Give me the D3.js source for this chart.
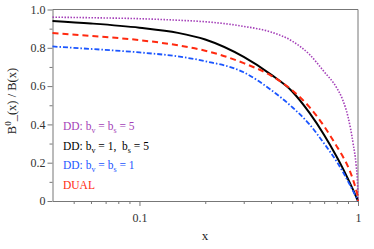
<!DOCTYPE html>
<html>
<head>
<meta charset="utf-8">
<script src="https://cdn.jsdelivr.net/npm/d3@7/dist/d3.min.js"></script>
<style>
  body { margin: 0; background: #fff; }
  svg { display: block; }
</style>
</head>
<body>
<svg id="chart" width="374" height="249"></svg>
<script>
var xs = [0.04, 0.06, 0.1, 0.15, 0.2, 0.3, 0.4, 0.5, 0.6, 0.7, 0.8, 0.85, 0.9, 0.95, 0.98, 0.995, 1.0];

// series values, B0(x)/B(x)
var ddV5S5 = [0.960, 0.957, 0.952, 0.944, 0.936, 0.912, 0.882, 0.835, 0.765, 0.675, 0.590, 0.530, 0.440, 0.300, 0.190, 0.095, 0.0];
var ddV1S5 = [0.940, 0.927, 0.905, 0.878, 0.843, 0.752, 0.660, 0.572, 0.460, 0.345, 0.230, 0.173, 0.115, 0.058, 0.023, 0.006, 0.0];
var ddV1S1 = [0.807, 0.794, 0.776, 0.755, 0.730, 0.672, 0.580, 0.490, 0.400, 0.300, 0.205, 0.155, 0.103, 0.052, 0.021, 0.005, 0.0];
var dual   = [0.877, 0.862, 0.840, 0.813, 0.785, 0.720, 0.655, 0.578, 0.490, 0.390, 0.285, 0.235, 0.180, 0.110, 0.058, 0.025, 0.0];

var xMajor = [0.1, 1];
var xMinor = [0.05, 0.06, 0.07, 0.08, 0.09, 0.2, 0.3, 0.4, 0.5, 0.6, 0.7, 0.8, 0.9];
var yMajor = [0, 0.2, 0.4, 0.6, 0.8, 1.0];
var yMinor = [0.1, 0.3, 0.5, 0.7, 0.9];

var legendLabels = [
  ["DD: b", "v", " = b", "s", " = 5"],
  ["DD: b", "v", " = 1,\u00a0 b", "s", " = 5"],
  ["DD: b", "v", " = b", "s", " = 1"],
  ["DUAL"]
];

var series = [
  { values: ddV5S5, color: "#a43fb8", width: 1.6, dash: "1.5,1.5" },
  { values: ddV1S5, color: "#000000", width: 2,   dash: null },
  { values: ddV1S1, color: "#1a55ff", width: 1.8, dash: "5,2,1.5,2" },
  { values: dual,   color: "#ff2a10", width: 2,   dash: "6,4" }
];
var legendColors = ["#a43fb8", "#000000", "#1a55ff", "#ff2a10"];

var margin = { left: 52.5, right: 16, top: 9.5, bottom: 48 };
var width = 374, height = 249;

var svg = d3.select("#chart");

var x = d3.scaleLog()
  .domain([0.04, 1])
  .range([margin.left, width - margin.right]);

var y = d3.scaleLinear()
  .domain([0, 1])
  .range([height - margin.bottom, margin.top]);

var axisColor = "#777";

// frame top and right
svg.append("path")
  .attr("d", "M" + x(0.04) + "," + y(1) + "H" + x(1) + "V" + y(0))
  .attr("fill", "none")
  .attr("stroke", axisColor)
  .attr("stroke-width", 1);

// x axis
var gx = svg.append("g")
  .attr("transform", "translate(0," + y(0) + ")")
  .call(d3.axisBottom(x).tickValues(xMajor).tickSize(5).tickSizeOuter(0)
    .tickFormat(function(d) { return d === 1 ? "1" : "0.1"; }));
svg.append("g")
  .attr("transform", "translate(0," + y(0) + ")")
  .call(d3.axisBottom(x).tickValues(xMinor).tickSize(3).tickSizeOuter(0).tickFormat(""))
  .select(".domain").remove();

// y axis
var gy = svg.append("g")
  .attr("transform", "translate(" + x(0.04) + ",0)")
  .call(d3.axisLeft(y).tickValues(yMajor).tickSize(5).tickSizeOuter(0)
    .tickFormat(function(d) { return d === 0 ? "0" : d3.format(".1f")(d); }));
svg.append("g")
  .attr("transform", "translate(" + x(0.04) + ",0)")
  .call(d3.axisLeft(y).tickValues(yMinor).tickSize(3).tickSizeOuter(0).tickFormat(""))
  .select(".domain").remove();

svg.selectAll(".domain, .tick line").attr("stroke", axisColor);
svg.selectAll(".tick text")
  .attr("fill", "#333")
  .style("font-family", "'Liberation Serif'")
  .style("font-size", "12px");
gx.selectAll(".tick text").attr("dy", "1.05em");
gy.selectAll(".tick text").attr("x", -7);

// curves
var line = d3.line()
  .x(function(d, i) { return x(xs[i]); })
  .y(function(d) { return y(d); })
  .curve(d3.curveMonotoneX);

svg.append("g")
  .selectAll("path")
  .data(series)
  .enter().append("path")
  .attr("d", function(s) { return line(s.values); })
  .attr("fill", "none")
  .attr("stroke", function(s) { return s.color; })
  .attr("stroke-width", function(s) { return s.width; })
  .attr("stroke-dasharray", function(s) { return s.dash; });

// legend
var legend = svg.append("g");

legend.selectAll("text")
  .data(legendLabels)
  .enter().append("text")
  .attr("x", 63)
  .attr("y", function(d, i) { return 130 + i * 19.6; })
  .attr("fill", function(d, i) { return legendColors[i]; })
  .style("font-family", "'Liberation Serif'")
  .style("font-size", "11.5px")
  .each(function(parts) {
    var t = d3.select(this);
    parts.forEach(function(p, j) {
      var isSub = j % 2 === 1;
      var ts = t.append("tspan").text(p);
      if (isSub) ts.attr("dy", 3).style("font-size", "8px");
      else if (j > 0) ts.attr("dy", -3);
    });
  });

// axis titles
svg.append("text")
  .attr("x", 205)
  .attr("y", 240)
  .attr("text-anchor", "middle")
  .style("font-family", "'Liberation Serif'")
  .style("font-size", "13px")
  .attr("fill", "#222")
  .text("x");

var yl = svg.append("text")
  .attr("transform", "translate(16,101) rotate(-90)")
  .attr("text-anchor", "middle")
  .style("font-family", "'Liberation Serif'")
  .style("font-size", "12.5px")
  .attr("fill", "#222");
yl.append("tspan").text("B");
yl.append("tspan").text("0").attr("dy", -5).style("font-size", "9px");
yl.append("tspan").text("_(x) / B(x)").attr("dy", 5);
</script>
</body>
</html>
